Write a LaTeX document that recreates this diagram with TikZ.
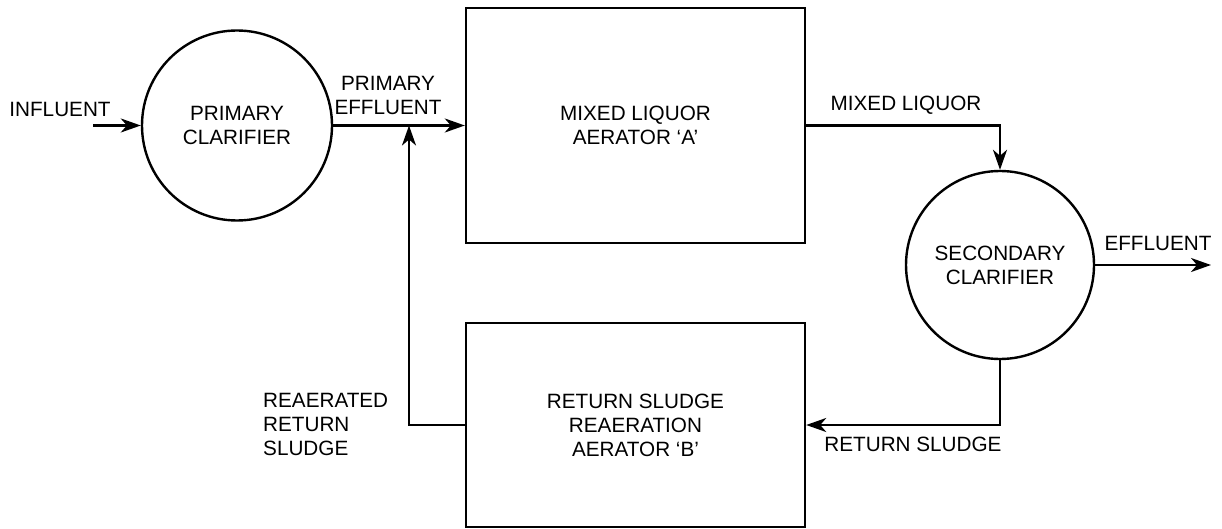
\documentclass[tikz,border=0pt]{standalone}
\usepackage{fontspec}
\setmainfont{Liberation Sans}
\usetikzlibrary{arrows.meta,calc}
\begin{document}
\begin{tikzpicture}[x=1pt,y=-1pt,
  every node/.style={font=\fontsize{20.7}{24}\selectfont},
  lbl/.style={align=center, inner sep=0pt},
  unit/.style={draw, line width=2.4pt, align=center, inner sep=0pt},
  tank/.style={unit, circle, minimum size=190pt},
  flow/.style={line width=2.4pt, -{Stealth[length=20pt,width=14pt,inset=6pt]}},
  pipe/.style={line width=2.4pt}]
\useasboundingbox (0,0) rectangle (1222,529);
\fill[white] (0,0) rectangle (1222,529);
% units
\node[tank] (pc) at (237,125.5) {PRIMARY\\CLARIFIER};
\node[unit, minimum width=339pt, minimum height=235pt] (A) at (635.5,125.5) {MIXED LIQUOR\\AERATOR ‘A’};
\node[tank, minimum size=188pt] (sc) at (1000,265) {SECONDARY\\CLARIFIER};
\node[unit, minimum width=339pt, minimum height=204pt] (B) at (635.5,425) {RETURN SLUDGE\\REAERATION\\AERATOR ‘B’};
% labels
\node[lbl] (infl) at (60,109) {INFLUENT};
\node[lbl] (pel) at (388,95) {PRIMARY\\EFFLUENT};
\node[lbl] (mll) at (906,105) {MIXED LIQUOR};
\node[lbl] (efl) at (1158,243) {EFFLUENT};
\node[lbl] (rsl) at (913,444) {RETURN SLUDGE};
\node[lbl, align=left, anchor=west] (rrs) at (263,424) {REAERATED\\RETURN\\SLUDGE};
% free ends
\coordinate (inS) at (93,125.5);
\coordinate (outE) at (1211,265);
\coordinate (j) at (409,125.5);
% connectors
\draw[flow] (inS) -- (pc.west);
\draw[flow] (pc.east) -- (A.west);
\draw[flow] (A.east) -| (sc.north);
\draw[flow] (sc.east) -- (outE);
\draw[flow] (sc.south) |- (B.east);
\draw[flow] (B.west) -| (j);
\end{tikzpicture}
\end{document}
